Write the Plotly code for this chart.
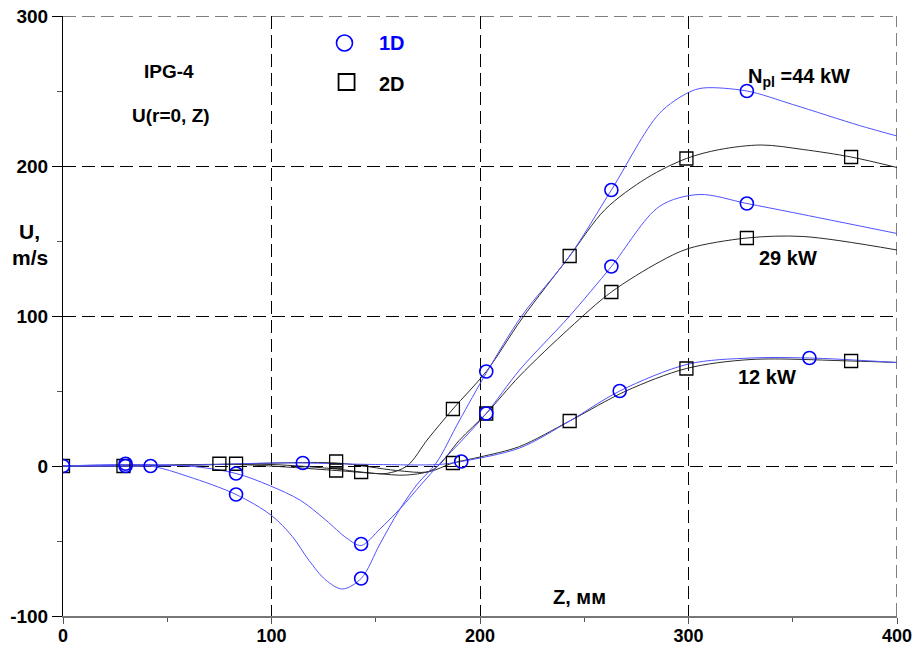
import plotly.graph_objects as go

# Axial velocity U(r=0, Z) along the torch, three plasma powers, 1D vs 2D model
# --- smooth curves (Z in mm, U in m/s) ---
z_1d_44 = [0, 20, 42, 60, 83, 100, 110, 118, 126, 134, 143, 152, 161, 170, 179, 190, 203, 220, 243, 263, 286, 300, 307, 328, 350, 382, 400]
u_1d_44 = [0, 0.5, 0, -7, -19, -33, -47, -63, -76, -82, -75, -52, -30, -12, 2, 30, 62, 100, 140, 184, 235, 249, 252, 250, 241, 227, 220]

z_1d_29 = [0, 30, 60, 83, 99, 114, 126, 136, 143, 152, 162, 172, 181, 192, 203, 219, 243, 263, 286, 305, 328, 350, 400]
u_1d_29 = [0, 1, 0, -5, -13, -23, -36, -48, -53, -42, -28, -12, 2, 18, 35, 64, 100, 133, 173, 181, 175, 169, 155]

z_1d_12 = [0, 42, 100, 115, 150, 180, 191, 219, 243, 267, 300, 330, 358, 400]
u_1d_12 = [0, 0, 2, 2, 1, 1, 3, 12, 30, 50, 68, 72, 72, 69]

z_2d_44 = [0, 30, 75, 100, 131, 143, 155, 165, 175, 187, 203, 220, 243, 260, 280, 299, 315, 335, 355, 378, 400]
u_2d_44 = [0, 0, 1, 1, -2, -4, -5, 0, 18, 38, 63, 98, 140, 171, 192, 205, 211, 214, 211, 206, 199]

z_2d_29 = [0, 30, 83, 131, 150, 165, 178, 190, 203, 219, 243, 263, 286, 300, 328, 355, 400]
u_2d_29 = [0, 0, 1, -3, -5, -6, -2, 17, 35, 60, 92, 116, 136, 145, 152, 153, 144]

z_2d_12 = [0, 30, 75, 131, 160, 175, 187, 200, 219, 243, 270, 299, 330, 378, 400]
u_2d_12 = [0, 0, 1, 2, -3, -4, 2, 6, 13, 30, 50, 65, 71, 70, 69]

# --- computed points shown with markers ---
zp_1d = [0, 30, 30, 42, 83, 83, 115, 143, 143, 191, 203, 203, 263, 263, 267, 328, 328, 358]
up_1d = [0, 1.5, 0, 0, -5, -19, 2, -52, -75, 3, 63, 35, 184, 133, 50, 250, 175, 72]

zp_2d = [0, 29, 75, 83, 131, 131, 143, 187, 187, 203, 243, 243, 263, 299, 299, 328, 378, 378]
up_2d = [0, 0, 1.5, 1.5, 3, -3, -4, 38, 2, 35, 140, 30, 116, 205, 65, 152, 206, 70]

# --- axis ticks ---
x_ticks = [0, 100, 200, 300, 400]
x_ticktext = ["0", "100", "200", "300", "400"]
y_ticks = [-100, 0, 100, 200, 300]
y_ticktext = ["-100", "0", "100", "200", "300"]

BLUE_LINE = "#5252ff"
BLUE_MARK = "#0000ff"
BLACK_LINE = "#2a2a2a"
FONT = "Liberation Sans, Arial, sans-serif"

fig = go.Figure()

for z, u in [(z_2d_44, u_2d_44), (z_2d_29, u_2d_29), (z_2d_12, u_2d_12)]:
    fig.add_trace(go.Scatter(x=z, y=u, mode="lines",
                             line=dict(color=BLACK_LINE, width=1, shape="spline", smoothing=0.9),
                             hoverinfo="skip", showlegend=False))
for z, u in [(z_1d_44, u_1d_44), (z_1d_29, u_1d_29), (z_1d_12, u_1d_12)]:
    fig.add_trace(go.Scatter(x=z, y=u, mode="lines",
                             line=dict(color=BLUE_LINE, width=1, shape="spline", smoothing=0.9),
                             hoverinfo="skip", showlegend=False))

fig.add_trace(go.Scatter(x=zp_2d, y=up_2d, mode="markers",
                         marker=dict(symbol="square-open", size=13, color="black",
                                     line=dict(width=1.3, color="black")),
                         showlegend=False))
fig.add_trace(go.Scatter(x=zp_1d, y=up_1d, mode="markers",
                         marker=dict(symbol="circle-open", size=13, color=BLUE_MARK,
                                     line=dict(width=1.6, color=BLUE_MARK)),
                         showlegend=False))

fig.update_xaxes(range=[0, 400], tickvals=x_ticks, ticktext=x_ticktext,
                 ticks="outside", ticklen=6, tickcolor="#555", tickwidth=1,
                 ticklabelstandoff=-4,
                 showline=True, linecolor="#777", linewidth=2,
                 showgrid=True, gridcolor="black", griddash="13px,6px", gridwidth=1,
                 zeroline=False, automargin=False,
                 tickfont=dict(family=FONT, size=18, color="black", weight="bold"),
                 minor=dict(dtick=50, ticks="outside", ticklen=4, tickcolor="#555", showgrid=False))
fig.update_yaxes(range=[-100, 300], tickvals=y_ticks, ticktext=y_ticktext,
                 ticks="outside", ticklen=10, tickcolor="black", tickwidth=1,
                 showline=True, linecolor="black", linewidth=1,
                 showgrid=True, gridcolor="black", griddash="13px,6px", gridwidth=1,
                 zeroline=False, automargin=False,
                 tickfont=dict(family=FONT, size=19, color="black", weight="bold"),
                 minor=dict(dtick=50, ticks="outside", ticklen=5, tickcolor="#555", showgrid=False))

# dashed frame on the top and right edges
for x0, y0, x1, y1 in [(0, 300, 400, 300), (400, -100, 400, 300)]:
    fig.add_shape(type="line", x0=x0, y0=y0, x1=x1, y1=y1, xref="x", yref="y",
                  line=dict(color="black", width=1, dash="13px,6px"), layer="below")


def txt(x, y, s, color="black", size=19, xref="x", yref="y"):
    fig.add_annotation(x=x, y=y, xref=xref, yref=yref, text=s, showarrow=False,
                       xanchor="center", yanchor="middle",
                       font=dict(family=FONT, size=size, color=color, weight="bold"))


txt(51, 263, "IPG-4")
txt(52, 234, "U(r=0, Z)")
txt(-0.04, 0.641, "U,", xref="paper", yref="paper", size=21)
txt(-0.04, 0.597, "m/s", xref="paper", yref="paper", size=21)
txt(158, 282, "1D", color=BLUE_MARK, size=20)
txt(158, 255, "2D", size=20)
txt(353, 259, "N<sub>pl</sub> =44 kW", size=20)
txt(347.5, 138.7, "29 kW", size=20)
txt(337.5, 59.3, "12 kW", size=20)
txt(247.5, -87.5, "Z, мм", size=20)

# legend glyphs drawn as markers in data space
fig.add_trace(go.Scatter(x=[135], y=[282], mode="markers",
                         marker=dict(symbol="circle-open", size=16, color=BLUE_MARK,
                                     line=dict(width=1.6, color=BLUE_MARK)),
                         showlegend=False, hoverinfo="skip", cliponaxis=False))
fig.add_trace(go.Scatter(x=[136], y=[256], mode="markers",
                         marker=dict(symbol="square-open", size=16, color="black",
                                     line=dict(width=1.8, color="black")),
                         showlegend=False, hoverinfo="skip", cliponaxis=False))

fig.update_layout(width=916, height=648, margin=dict(l=63, r=19, t=16, b=32, autoexpand=False),
                  plot_bgcolor="white", paper_bgcolor="white", showlegend=False)

fig.write_html("out.html")
